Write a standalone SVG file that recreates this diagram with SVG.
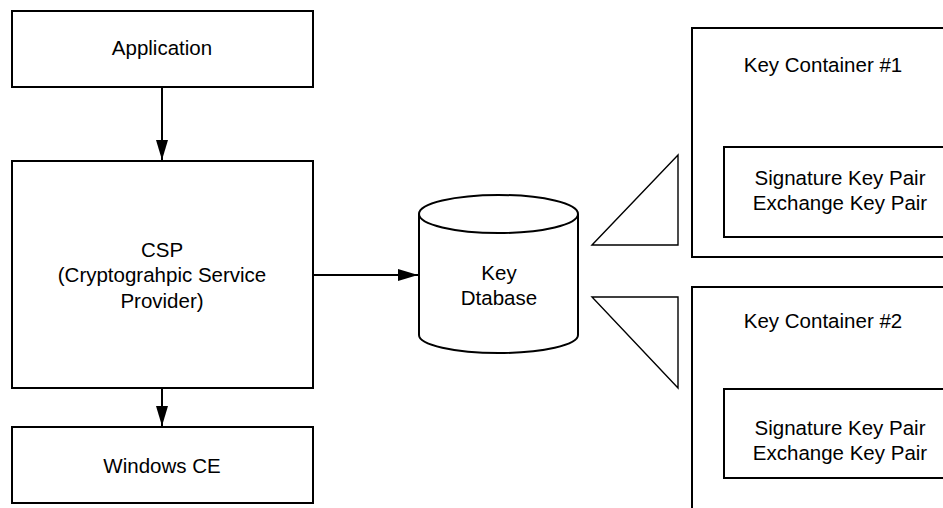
<svg xmlns="http://www.w3.org/2000/svg" width="943" height="508" viewBox="0 0 943 508">
<defs>
<style>
.box{fill:#fff;stroke:#000;stroke-width:2}
.tri{fill:#fff;stroke:#000;stroke-width:1.4}
.lbl{font-family:"Liberation Sans",Arial,sans-serif;font-size:20.5px;fill:#000;text-anchor:middle}
.conn{stroke:#000;stroke-width:2;fill:none}
</style>
<marker id="arr" viewBox="0 0 20 12" refX="20" refY="6" markerWidth="20" markerHeight="12" markerUnits="userSpaceOnUse" orient="auto">
<path d="M0,0 L20,6 L0,12 Z" fill="#000"/>
</marker>
</defs>
<rect width="943" height="508" fill="#fff"/>
<g id="application">
<rect class="box" x="12" y="11" width="301" height="76"/>
<text class="lbl" x="162" y="55">Application</text>
</g>
<g id="csp">
<rect class="box" x="12" y="161" width="301" height="227"/>
<text class="lbl" x="162" y="257">CSP</text>
<text class="lbl" x="162" y="282">(Cryptograhpic Service</text>
<text class="lbl" x="162" y="308">Provider)</text>
</g>
<g id="windows-ce">
<rect class="box" x="12" y="427" width="301" height="76"/>
<text class="lbl" x="162" y="473">Windows CE</text>
</g>
<g id="key-database">
<path class="box" d="M419,214 L419,335 A79.5,18 0 0 0 578,335 L578,214 A79.5,19 0 0 0 419,214 Z"/>
<path class="conn" d="M419,214 A79.5,19 0 0 0 578,214"/>
<text class="lbl" x="499" y="280">Key</text>
<text class="lbl" x="499" y="305">Dtabase</text>
</g>
<g id="triangle-1">
<polygon class="tri" points="592,245 678,155 678,245"/>
</g>
<g id="triangle-2">
<polygon class="tri" points="592,297 678,297 678,388"/>
</g>
<g id="key-container-1">
<rect class="box" x="692" y="28" width="260" height="229"/>
<text class="lbl" x="823" y="72">Key Container #1</text>
<g id="key-pairs-1">
<rect class="box" x="724" y="147" width="228" height="90"/>
<text class="lbl" x="840" y="185">Signature Key Pair</text>
<text class="lbl" x="840" y="210">Exchange Key Pair</text>
</g>
</g>
<g id="key-container-2">
<rect class="box" x="692" y="287" width="260" height="240"/>
<text class="lbl" x="823" y="328">Key Container #2</text>
<g id="key-pairs-2">
<rect class="box" x="724" y="389" width="228" height="89"/>
<text class="lbl" x="840" y="435">Signature Key Pair</text>
<text class="lbl" x="840" y="460">Exchange Key Pair</text>
</g>
</g>
<g id="connectors">
<line class="conn" x1="162" y1="87" x2="162" y2="160" marker-end="url(#arr)"/>
<line class="conn" x1="162" y1="388" x2="162" y2="426" marker-end="url(#arr)"/>
<line class="conn" x1="313" y1="275" x2="418" y2="275" marker-end="url(#arr)"/>
</g>
</svg>
